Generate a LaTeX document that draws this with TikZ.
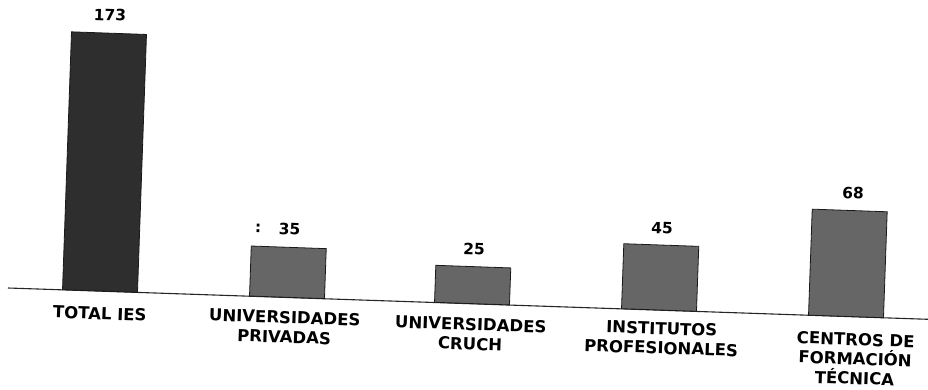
\documentclass[tikz,border=0pt]{standalone}
\usepackage{fontspec}
\setmainfont{DejaVu Sans}
\begin{document}
\begin{tikzpicture}[x=1pt,y=-1pt,
  chartbar/.style={draw=black!90, line width=0.8pt, inner sep=0pt, outer sep=0pt,
    minimum width=75pt, anchor=south, rotate=-2},
  darkbar/.style={chartbar, fill=black!82},
  lightbar/.style={chartbar, fill=black!60},
  valtext/.style={font=\fontsize{15.5}{18}\selectfont\bfseries, text=black, inner sep=0pt, rotate=-2},
  cattext/.style={font=\fontsize{16.5}{19.5}\selectfont\bfseries, text=black, inner sep=0pt,
    align=center, anchor=north, rotate=-2},
  axisline/.style={draw=black!85, line width=1.1pt}
]
\useasboundingbox (0,0) rectangle (928,390);
\fill[white] (0,0) rectangle (928,390);
% baseline
\coordinate (axisL) at (8,288);
\coordinate (axisR) at (928,319.3);
\draw[axisline] (axisL) -- (axisR);
% bars
\node[darkbar, minimum height=258pt] (b1) at (100,291) {};
\node[lightbar, minimum height=50pt] (b2) at (287,297.3) {};
\node[lightbar, minimum height=37pt] (b3) at (472,303.6) {};
\node[lightbar, minimum height=65pt] (b4) at (659,310) {};
\node[lightbar, minimum height=106pt] (b5) at (846,316.4) {};
% values
\node[valtext] (v1) at (110,15) {173};
\node[valtext] (v2) at (289.5,229) {35};
\node[valtext] (vc) at (258,228) {:};
\node[valtext] (v3) at (474,249) {25};
\node[valtext] (v4) at (662,228) {45};
\node[valtext] (v5) at (853,193) {68};
% categories
\node[cattext] (c1) at (100,307) {TOTAL IES};
\node[cattext] (c2) at (285,311) {UNIVERSIDADES\\PRIVADAS};
\node[cattext] (c3) at (471,318) {UNIVERSIDADES\\CRUCH};
\node[cattext] (c4) at (662,322) {INSTITUTOS\\PROFESIONALES};
\node[cattext] (c5) at (856,333) {CENTROS DE\\FORMACIÓN\\TÉCNICA};
\end{tikzpicture}
\end{document}
